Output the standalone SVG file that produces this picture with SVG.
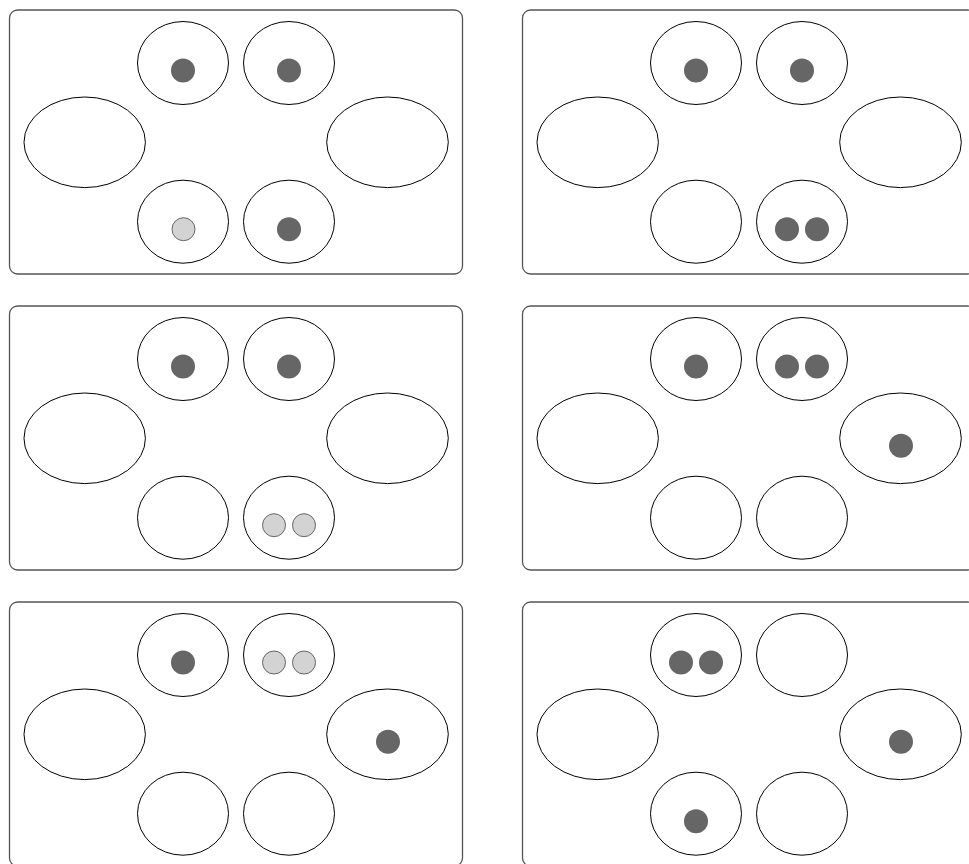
<svg xmlns="http://www.w3.org/2000/svg" width="969" height="864" viewBox="0 0 969 864">
<style>
.panel{fill:#fff;stroke:#555;stroke-width:1.3}
.place{fill:#fff;stroke:#000;stroke-width:1}
.tok{fill:#666;stroke:none}
.ltok{fill:#d3d3d3;stroke:#666;stroke-width:1}
</style>
<defs>
<g id="base">
<rect class="panel" x="9.5" y="10" width="453" height="264" rx="8"/>
<ellipse class="place" cx="84.7" cy="142.3" rx="60.7" ry="45.3"/>
<ellipse class="place" cx="387.5" cy="142.3" rx="60.8" ry="45.3"/>
<ellipse class="place" cx="183" cy="63" rx="45.5" ry="41.5"/>
<ellipse class="place" cx="289" cy="63" rx="45.5" ry="41.5"/>
<ellipse class="place" cx="183" cy="221.7" rx="45.5" ry="41.5"/>
<ellipse class="place" cx="289" cy="221.7" rx="45.5" ry="41.5"/>
</g>
</defs>
<rect width="969" height="864" fill="#fff"/>
<g id="panel1">
<use href="#base"/>
<circle class="tok" cx="183" cy="70.5" r="12"/>
<circle class="tok" cx="289" cy="70.5" r="12"/>
<circle class="ltok" cx="183.5" cy="229.2" r="11.5"/>
<circle class="tok" cx="289" cy="229.2" r="12"/>
</g>
<g id="panel2" transform="translate(513,0)">
<use href="#base"/>
<circle class="tok" cx="183" cy="70.5" r="12"/>
<circle class="tok" cx="289" cy="70.5" r="12"/>
<circle class="tok" cx="274" cy="229.2" r="12"/>
<circle class="tok" cx="304" cy="229.2" r="12"/>
</g>
<g id="panel3" transform="translate(0,296)">
<use href="#base"/>
<circle class="tok" cx="183" cy="70.5" r="12"/>
<circle class="tok" cx="289" cy="70.5" r="12"/>
<circle class="ltok" cx="274" cy="229.2" r="11.5"/>
<circle class="ltok" cx="304" cy="229.2" r="11.5"/>
</g>
<g id="panel4" transform="translate(513,296)">
<use href="#base"/>
<circle class="tok" cx="183" cy="70.5" r="12"/>
<circle class="tok" cx="274" cy="70.5" r="12"/>
<circle class="tok" cx="304" cy="70.5" r="12"/>
<circle class="tok" cx="388" cy="149.7" r="12"/>
</g>
<g id="panel5" transform="translate(0,592)">
<use href="#base"/>
<circle class="tok" cx="183" cy="70.5" r="12"/>
<circle class="ltok" cx="274" cy="70.5" r="11.5"/>
<circle class="ltok" cx="304" cy="70.5" r="11.5"/>
<circle class="tok" cx="388" cy="149.7" r="12"/>
</g>
<g id="panel6" transform="translate(513,592)">
<use href="#base"/>
<circle class="tok" cx="168" cy="70.5" r="12"/>
<circle class="tok" cx="198" cy="70.5" r="12"/>
<circle class="tok" cx="388" cy="149.7" r="12"/>
<circle class="tok" cx="183" cy="229.2" r="12"/>
</g>
<g id="connectors"/>
</svg>
